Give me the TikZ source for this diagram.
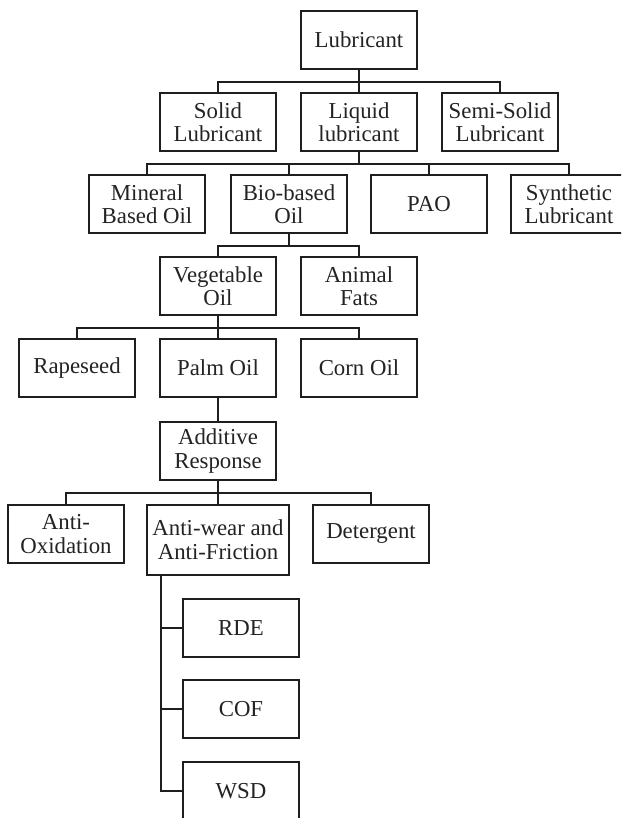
\documentclass[tikz,border=0pt]{standalone}
\usepackage{fontspec}
\setmainfont{Liberation Serif}
\definecolor{boxline}{RGB}{30, 30, 30}
\definecolor{labelcolor}{RGB}{35, 35, 35}
\tikzset{
boxtext/.style={
  align=center,
  font=\fontsize{22.8}{23.5}\selectfont,
  text=labelcolor
},
treebox/.style={
  draw=boxline,
  line width=1.7pt,
  fill=white,
  minimum width=116pt,
  minimum height=58pt,
  inner sep=4pt,
  boxtext
},
tallbox/.style={
  treebox,
  inner xsep=1pt,
  minimum width=142pt,
  minimum height=70pt
},
link/.style={
  draw=boxline,
  line width=1.7pt
},
bus/.style={
  link,
  to path={-- ++(0,12) -| (\tikztotarget)}
}
}

\begin{document}
\begin{tikzpicture}[x=1pt, y=-1pt]
  \path[use as bounding box, clip] (0,0) rectangle (621,818);

  % Row positions
  \def\rowA{40}    % Lubricant
  \def\rowB{122}   % solid / liquid / semi-solid
  \def\rowC{204}   % oil types
  \def\rowD{286}   % vegetable / animal
  \def\rowE{368}   % rapeseed / palm / corn
  \def\rowF{451}   % additive
  \def\rowG{504}   % additive response (top edge)

  % Row 1: root
  \node[treebox] (lub) at (359,\rowA) {Lubricant};

  % Row 2
  \node[treebox] (solid) at (218,\rowB) {Solid\\Lubricant};
  \node[treebox] (liquid) at (359,\rowB) {Liquid\\lubricant};
  \node[treebox] (semisolid) at (500,\rowB) {Semi-Solid\\Lubricant};

  % Row 3
  \node[treebox] (mineral) at (147,\rowC) {Mineral\\Based Oil};
  \node[treebox] (bio) at (289,\rowC) {Bio-based\\Oil};
  \node[treebox] (pao) at (429,\rowC) {PAO};
  \node[treebox] (synth) at (569,\rowC) {Synthetic\\Lubricant};

  % Row 4
  \node[treebox] (veg) at (218,\rowD) {Vegetable\\Oil};
  \node[treebox] (animal) at (359,\rowD) {Animal\\Fats};

  % Row 5
  \node[treebox] (rapeseed) at (77,\rowE) {Rapeseed};
  \node[treebox] (palm) at (218,\rowE) {Palm Oil};
  \node[treebox] (corn) at (359,\rowE) {Corn Oil};

  % Row 6
  \node[treebox] (additive) at (218,\rowF) {Additive\\Response};

  % Row 7
  \node[treebox, anchor=north] (antiox) at (66,\rowG) {Anti-\\Oxidation};
  \node[tallbox, anchor=north] (antiwear) at (218,\rowG) {Anti-wear and\\Anti-Friction};
  \node[treebox, anchor=north] (detergent) at (371,\rowG) {Detergent};

  % Test results
  \node[treebox] (rde) at (241,628) {RDE};
  \node[treebox] (cof) at (241,709) {COF};
  \node[treebox] (wsd) at (241,791) {WSD};

  % Tree links
  \foreach \kid in {solid,liquid,semisolid} {
    \draw[bus] (lub.south) to (\kid.north);
  }
  \foreach \kid in {mineral,bio,pao,synth} {
    \draw[bus] (liquid.south) to (\kid.north);
  }
  \foreach \kid in {veg,animal} {
    \draw[bus] (bio.south) to (\kid.north);
  }
  \foreach \kid in {rapeseed,palm,corn} {
    \draw[bus] (veg.south) to (\kid.north);
  }
  \draw[link] (palm.south) -- (additive.north);
  \foreach \kid in {antiox,antiwear,detergent} {
    \draw[bus] (additive.south) to (\kid.north);
  }
  \foreach \kid in {rde,cof,wsd} {
    \draw[link] ([xshift=-21pt]rde.west |- antiwear.south) |- (\kid.west);
  }
\end{tikzpicture}
\end{document}
